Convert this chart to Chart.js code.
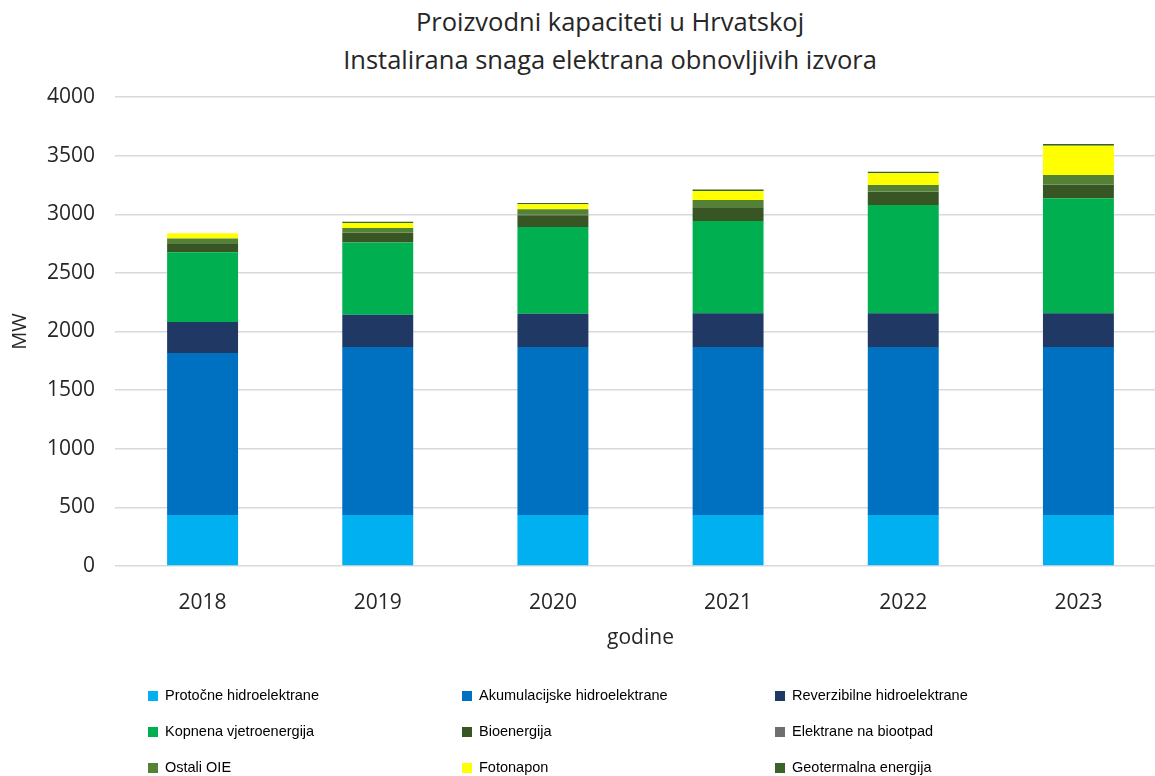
<!DOCTYPE html>
<html>
<head>
<meta charset="utf-8">
<script src="https://cdn.jsdelivr.net/npm/chart.js@4.4.1/dist/chart.umd.min.js"></script>
<style>
  html, body { margin: 0; padding: 0; background: #fff; overflow: hidden; }
  body { width: 1155px; height: 776px; position: relative; }
  #title {
    position: absolute; left: 0; top: 2px; width: 1220px; text-align: center;
    font-family: "Open Sans", sans-serif; font-size: 25.5px; line-height: 38px; color: #262626;
  }
  #wrap { position: absolute; left: 0; top: 0; width: 1166px; height: 776px; }
  #legend { position: absolute; left: 0; top: 0; }
  .item {
    position: absolute; font-family: "Liberation Sans", Arial, sans-serif; font-size: 14.5px;
    color: #000; white-space: nowrap; line-height: 16px;
  }
  .item i { display: inline-block; width: 10px; height: 10px; margin-right: 7px; vertical-align: -1px; }
</style>
</head>
<body>
<div id="title">Proizvodni kapaciteti u Hrvatskoj<br>Instalirana snaga elektrana obnovljivih izvora</div>
<div id="wrap"><canvas id="barchart"></canvas></div>
<div id="legend"></div>
<script>
const godine = ['2018', '2019', '2020', '2021', '2022', '2023'];

// instalirana snaga po vrsti izvora, MW
const protocne = [435, 435, 435, 435, 435, 435];
const akumulacijske = [1382, 1433, 1433, 1433, 1433, 1433];
const reverzibilne = [264, 275, 284, 287, 287, 287];
const vjetar = [594, 616, 740, 787, 924, 981];
const bioenergija = [77, 81, 100, 117, 113, 113];
const biootpad = [2, 2, 3, 3, 3, 3];
const ostaliOIE = [40, 40, 48, 60, 54, 83];
const fotonapon = [45, 43, 43, 76, 100, 250];
const geotermalna = [0, 10, 10, 14, 14, 14];

const yTicks = [0, 500, 1000, 1500, 2000, 2500, 3000, 3500, 4000];

const serije = [
    { label: 'Protočne hidroelektrane', data: protocne, color: '#00b0f0' },
    { label: 'Akumulacijske hidroelektrane', data: akumulacijske, color: '#0070c0' },
    { label: 'Reverzibilne hidroelektrane', data: reverzibilne, color: '#1f3864' },
    { label: 'Kopnena vjetroenergija', data: vjetar, color: '#00b050' },
    { label: 'Bioenergija', data: bioenergija, color: '#375623' },
    { label: 'Elektrane na biootpad', data: biootpad, color: '#6e6e6e' },
    { label: 'Ostali OIE', data: ostaliOIE, color: '#548235' },
    { label: 'Fotonapon', data: fotonapon, color: '#ffff00' },
    { label: 'Geotermalna energija', data: geotermalna, color: '#3b6328' }
];

// legenda u tri stupca
const legend = document.getElementById('legend');
const colX = [148, 462, 775];
const rowY = [687, 723, 759];
serije.forEach((s, i) => {
    const el = document.createElement('div');
    el.className = 'item';
    el.style.left = colX[i % 3] + 'px';
    el.style.top = rowY[Math.floor(i / 3)] + 'px';
    el.innerHTML = '<i style="background:' + s.color + '"></i>' + s.label;
    legend.appendChild(el);
});

const ctx = document.getElementById('barchart').getContext('2d');
const barchart = new Chart(ctx, {
    type: 'bar',
    data: {
        labels: godine,
        datasets: serije.map(s => ({
            label: s.label,
            data: s.data,
            backgroundColor: s.color,
            borderWidth: 0,
            categoryPercentage: 1,
            barPercentage: 0.405
        }))
    },
    options: {
        responsive: true,
        maintainAspectRatio: false,
        animation: false,
        layout: { padding: { top: 97, left: 8, right: 0, bottom: 125 } },
        plugins: {
            legend: { display: false },
            tooltip: { enabled: false }
        },
        scales: {
            x: {
                stacked: true,
                grid: { display: false },
                border: { display: false },
                ticks: { color: '#262626', font: { family: 'Open Sans', size: 21 }, padding: 16 },
                title: { display: true, text: 'godine', color: '#262626', font: { family: 'Open Sans', size: 21 }, padding: { top: 4, bottom: 0 } },
                afterFit: axis => { axis.height = 85; }
            },
            y: {
                stacked: true,
                min: 0,
                max: 4000,
                afterBuildTicks: axis => { axis.ticks = yTicks.map(v => ({ value: v })); },
                grid: { color: '#d9d9d9', lineWidth: 1.5, drawTicks: false },
                border: { display: false },
                ticks: {
                    color: '#262626',
                    font: { family: 'Open Sans', size: 21 },
                    padding: 20,
                    callback: v => String(v)
                },
                title: { display: true, text: 'MW', color: '#262626', font: { family: 'Open Sans', size: 20 }, padding: 0 },
                afterFit: axis => { axis.width = 107; }
            }
        }
    }
});
</script>
</body>
</html>
